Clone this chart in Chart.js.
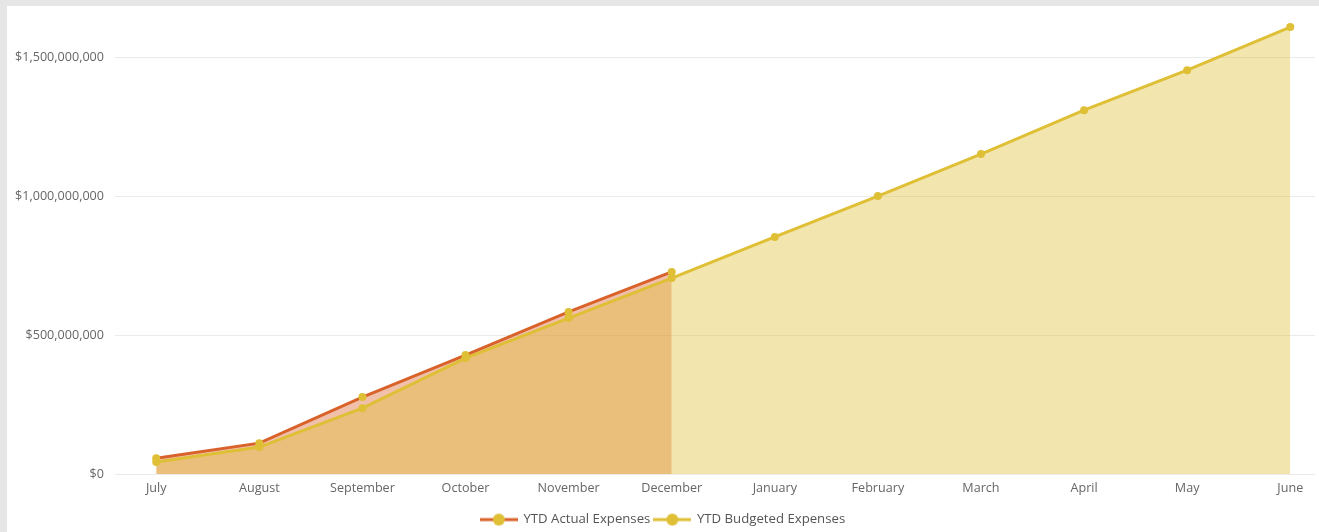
<!DOCTYPE html>
<html>
<head>
<meta charset="utf-8">
<script src="https://cdn.jsdelivr.net/npm/chart.js@4"></script>
<style>
  html, body { margin: 0; padding: 0; background: #e6e6e6; width: 1319px; height: 532px; overflow: hidden; }
  #wrap { position: absolute; left: 7px; top: 6px; width: 1312px; height: 526px; background: #fff; }
</style>
</head>
<body>
<div id="wrap"><canvas id="line-chart"></canvas></div>
<script>
// Data
const months = ['July', 'August', 'September', 'October', 'November', 'December',
                'January', 'February', 'March', 'April', 'May', 'June'];
const actualExpenses = [57e6, 111e6, 277e6, 428e6, 583e6, 727e6];
const budgetExpenses = [43e6, 97e6, 237e6, 417e6, 561e6, 705e6,
                        853e6, 1000e6, 1151e6, 1309e6, 1453e6, 1608e6];
const yTicks = [0, 500e6, 1000e6, 1500e6];

const orange = 'rgb(217, 98, 43)';
const yellow = 'rgb(223, 191, 53)';
const font = "'Open Sans', 'Noto Sans', sans-serif";

// little "line with a dot" icons for the legend
function legendIcon(lineColor) {
  const c = document.createElement('canvas');
  c.width = 38; c.height = 14;
  const g = c.getContext('2d');
  g.strokeStyle = lineColor;
  g.lineWidth = 3;
  g.beginPath(); g.moveTo(0, 7); g.lineTo(38, 7); g.stroke();
  g.fillStyle = yellow;
  g.beginPath(); g.arc(19, 7, 6, 0, Math.PI * 2); g.fill();
  return c;
}

const toXY = arr => arr.map((v, i) => ({ x: i, y: v }));

const data_line = {
  datasets: [{
    label: 'YTD Actual Expenses',
    data: toXY(actualExpenses),
    borderColor: orange,
    backgroundColor: 'rgba(217, 98, 43, 0.4)',
    borderWidth: 3,
    pointRadius: 4,
    pointBackgroundColor: yellow,
    pointBorderWidth: 0,
    fill: 'origin',
    tension: 0,
    clip: false,
    order: 1 // drawn first, budget goes over it
  }, {
    label: 'YTD Budgeted Expenses',
    data: toXY(budgetExpenses),
    borderColor: yellow,
    backgroundColor: 'rgba(223, 191, 53, 0.4)',
    borderWidth: 3,
    pointRadius: 4,
    pointBackgroundColor: yellow,
    pointBorderWidth: 0,
    fill: 'origin',
    tension: 0,
    clip: false,
    order: 0
  }]
};

const config_line = {
  type: 'line',
  data: data_line,
  options: {
    responsive: true,
    maintainAspectRatio: false,
    animation: false,
    layout: { padding: { top: 0, right: 0, bottom: 0, left: 0 } },
    scales: {
      x: {
        type: 'linear',
        min: -0.4,
        max: 11.24,
        grid: { display: false, drawTicks: false },
        border: { display: false },
        afterFit: s => { s.height = 35; },
        ticks: {
          stepSize: 1,
          includeBounds: false,
          autoSkip: false,
          maxRotation: 0,
          padding: 7,
          color: '#666',
          font: { family: font, size: 12.6 },
          callback: v => (Number.isInteger(v) && months[v]) ? months[v] : ''
        }
      },
      y: {
        min: 0,
        max: 1617e6,
        afterFit: s => { s.width = 108; },
        afterBuildTicks: s => { s.ticks = yTicks.map(v => ({ value: v })); },
        grid: { color: '#ebebeb', drawTicks: false, lineWidth: 1 },
        border: { display: false },
        ticks: {
          padding: 11,
          color: '#666',
          font: { family: font, size: 12.6 },
          callback: v => '$' + v.toLocaleString('en-US')
        }
      }
    },
    plugins: {
      tooltip: { enabled: false },
      legend: {
        position: 'bottom',
        maxHeight: 23,
        labels: {
          usePointStyle: true,
          pointStyleWidth: 36,
          padding: 4,
          color: '#555',
          font: { family: font, size: 13.2 },
          generateLabels: chart => chart.data.datasets.map((ds, i) => ({
            text: ds.label,
            pointStyle: legendIcon(ds.borderColor),
            fillStyle: 'transparent',
            strokeStyle: 'transparent',
            lineWidth: 0,
            fontColor: '#555',
            datasetIndex: i
          }))
        }
      }
    }
  }
};

const canvas_line = document.getElementById('line-chart');
const lineChart = new Chart(canvas_line, config_line);
</script>
</body>
</html>
